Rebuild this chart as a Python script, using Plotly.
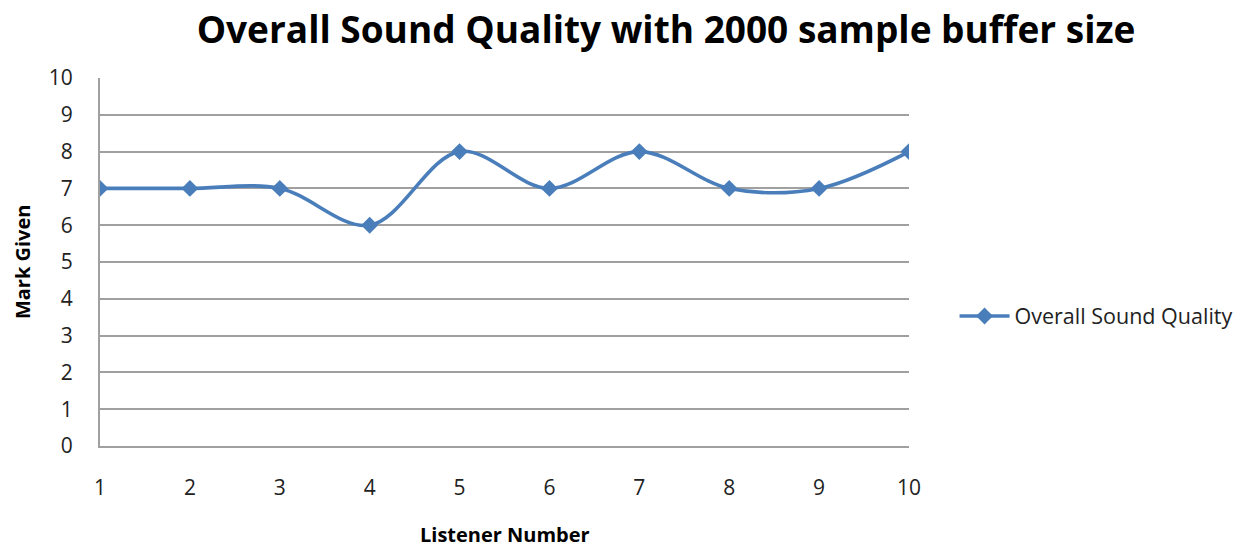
import plotly.graph_objects as go

listeners = [1, 2, 3, 4, 5, 6, 7, 8, 9, 10]
marks = [7, 7, 7, 6, 8, 7, 8, 7, 7, 8]
y_ticks = [0, 1, 2, 3, 4, 5, 6, 7, 8, 9, 10]

font_family = "'Open Sans', Lato, sans-serif"
line_color = "#4A7EBB"
grid_color = "#A0A0A0"

fig = go.Figure()
fig.add_trace(go.Scatter(
    x=listeners,
    y=marks,
    mode="lines+markers",
    name="Overall Sound Quality",
    line=dict(color=line_color, width=3.6, shape="spline", smoothing=1),
    marker=dict(symbol="diamond", size=13, color=line_color),
))

fig.update_layout(
    width=1248,
    height=547,
    paper_bgcolor="white",
    plot_bgcolor="white",
    margin=dict(l=100, r=338, t=78, b=101),
    font=dict(family=font_family, size=21, color="#222222"),
    title=dict(
        text="<b>Overall Sound Quality with 2000 sample buffer size</b>",
        x=666 / 1248, xanchor="center", xref="container",
        y=0.945, yanchor="middle", yref="container",
        font=dict(size=37, family=font_family, color="#000000"),
    ),
    showlegend=True,
    legend=dict(
        x=1.055, xanchor="left",
        y=0.353, yanchor="middle",
        font=dict(size=21.5, family=font_family, color="#222222"),
        bgcolor="rgba(0,0,0,0)",
        itemwidth=50,
    ),
    xaxis=dict(
        range=[1, 10],
        tickvals=listeners,
        ticktext=[str(v) for v in listeners],
        showgrid=False,
        showline=True,
        linecolor=grid_color,
        linewidth=2,
        zeroline=False,
        ticks="",
        ticklabelstandoff=22,
        tickfont=dict(size=21),
    ),
    yaxis=dict(
        range=[0, 10],
        tickvals=y_ticks,
        showgrid=True,
        gridcolor=grid_color,
        gridwidth=1.5,
        showline=True,
        linecolor=grid_color,
        linewidth=2,
        zeroline=False,
        ticks="",
        ticklabelstandoff=21,
        tickfont=dict(size=21),
    ),
    annotations=[
        dict(text="<b>Mark Given</b>", textangle=-90,
             x=(22 - 100) / 810, xref="paper", y=0.5, yref="paper",
             xanchor="center", yanchor="middle", showarrow=False,
             font=dict(size=20, family=font_family, color="#000000")),
        dict(text="<b>Listener Number</b>",
             x=(506 - 100) / 810, xref="paper", y=-(534 - 446) / 368, yref="paper",
             xanchor="center", yanchor="middle", showarrow=False,
             font=dict(size=20, family=font_family, color="#000000")),
    ],
)

fig.write_html("out.html")
